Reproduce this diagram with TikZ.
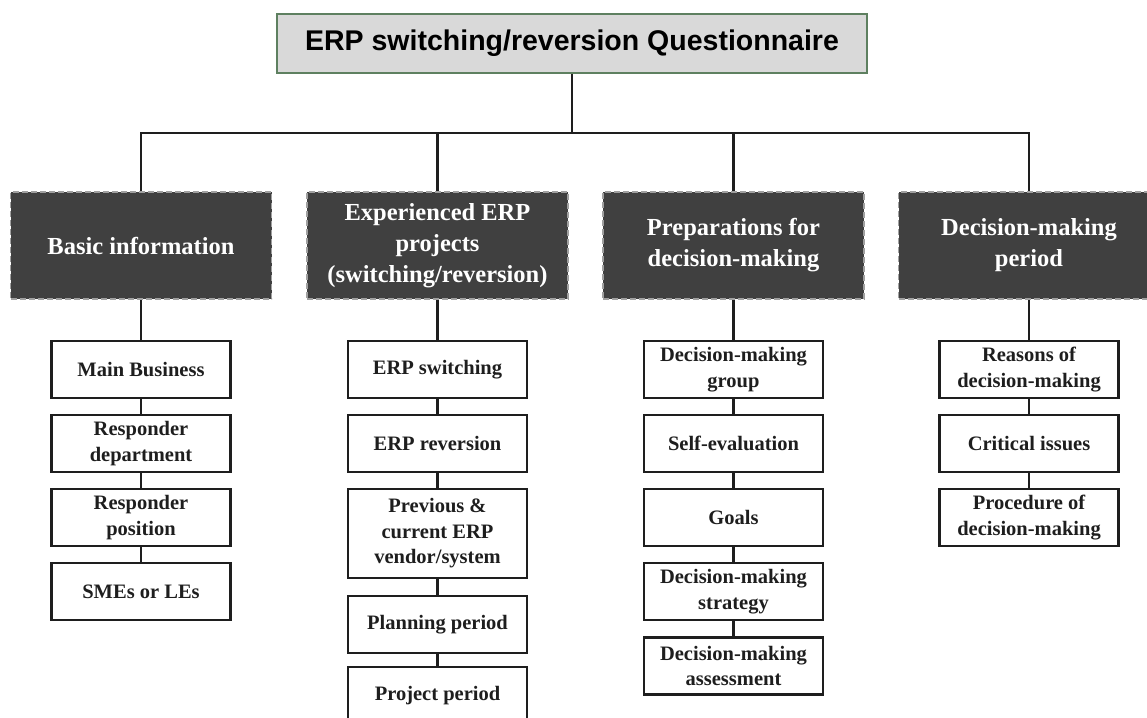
\documentclass[tikz,border=0pt]{standalone}
\usepackage{fontspec}
\setmainfont{Liberation Serif}
\newfontfamily\titlefont{Liberation Sans}
\definecolor{titlefill}{HTML}{D9D9D9}
\definecolor{titleborder}{HTML}{5E8060}
\definecolor{headfill}{HTML}{404040}
\definecolor{headborder}{HTML}{A0A0A0}
\definecolor{ink}{HTML}{1E1E1E}
\tikzset{
  titlebox/.style={draw=titleborder, fill=titlefill, line width=1.6pt, minimum width=590pt, minimum height=59pt, inner sep=0pt,
    font=\titlefont\fontsize{28.5}{32}\selectfont\bfseries, text=black},
  headbox/.style={draw=headborder, fill=headfill, line width=1.5pt, dash pattern=on 6pt off 3pt, minimum width=261pt, minimum height=107pt,
    inner sep=0pt, align=center, text=white, font=\fontsize{24.5}{31}\selectfont\bfseries},
  itembox/.style={draw=ink, fill=white, line width=2.4pt, minimum width=179pt, minimum height=57pt, inner sep=0pt,
    align=center, text=ink, font=\fontsize{20.5}{25.5}\selectfont\bfseries},
  link/.style={draw=ink, line width=2.2pt}
}
\begin{document}
\begin{tikzpicture}[x=1pt,y=-1pt]
\useasboundingbox (0,0) rectangle (1147,717);
\clip (0,0) rectangle (1147,717);
\fill[white] (0,0) rectangle (1147,717);

\coordinate (bus) at (573,133);

% connectors (drawn first, boxes cover their ends)
\node[headbox] (H1) at (141,245.5) {Basic information};
\node[headbox] (H2) at (437.5,245.5) {Experienced ERP\\projects\\(switching/reversion)};
\node[headbox] (H3) at (733.5,245.5) {Preparations for\\decision-making};
\node[headbox] (H4) at (1029,245.5) {Decision-making\\period};

% column 1
\node[itembox] (A1) at (141,369.5) {Main Business};
\node[itembox] (A2) at (141,443.5) {Responder\\department};
\node[itembox] (A3) at (141,517.5) {Responder\\position};
\node[itembox] (A4) at (141,591.5) {SMEs or LEs};

% column 2
\node[itembox] (B1) at (437.5,369.5) {ERP switching};
\node[itembox] (B2) at (437.5,443.5) {ERP reversion};
\node[itembox, minimum height=89pt] (B3) at (437.5,533.5) {Previous \&\\current ERP\\vendor/system};
\node[itembox] (B4) at (437.5,624.5) {Planning period};
\node[itembox] (B5) at (437.5,695.5) {Project period};

% column 3
\node[itembox] (C1) at (733.5,369.5) {Decision-making\\group};
\node[itembox] (C2) at (733.5,443.5) {Self-evaluation};
\node[itembox] (C3) at (733.5,517.5) {Goals};
\node[itembox] (C4) at (733.5,591.5) {Decision-making\\strategy};
\node[itembox] (C5) at (733.5,666) {Decision-making\\assessment};

% column 4
\node[itembox] (D1) at (1029,369.5) {Reasons of\\decision-making};
\node[itembox] (D2) at (1029,443.5) {Critical issues};
\node[itembox] (D3) at (1029,517.5) {Procedure of\\decision-making};

% title
\node[titlebox] (T) at (572,43.5) {ERP switching/reversion Questionnaire};

% connectors
\draw[link] (T.south) -- (T.south |- bus);
\draw[link] (H1.north) -- (H1.north |- bus) -- (H4.north |- bus) -- (H4.north);
\draw[link] (H2.north) -- (H2.north |- bus);
\draw[link] (H3.north) -- (H3.north |- bus);
\draw[link] (H1.south) -- (A1.north);
\draw[link] (A1.south) -- (A2.north);
\draw[link] (A2.south) -- (A3.north);
\draw[link] (A3.south) -- (A4.north);
\draw[link] (H2.south) -- (B1.north);
\draw[link] (B1.south) -- (B2.north);
\draw[link] (B2.south) -- (B3.north);
\draw[link] (B3.south) -- (B4.north);
\draw[link] (B4.south) -- (B5.north);
\draw[link] (H3.south) -- (C1.north);
\draw[link] (C1.south) -- (C2.north);
\draw[link] (C2.south) -- (C3.north);
\draw[link] (C3.south) -- (C4.north);
\draw[link] (C4.south) -- (C5.north);
\draw[link] (H4.south) -- (D1.north);
\draw[link] (D1.south) -- (D2.north);
\draw[link] (D2.south) -- (D3.north);
\end{tikzpicture}
\end{document}
